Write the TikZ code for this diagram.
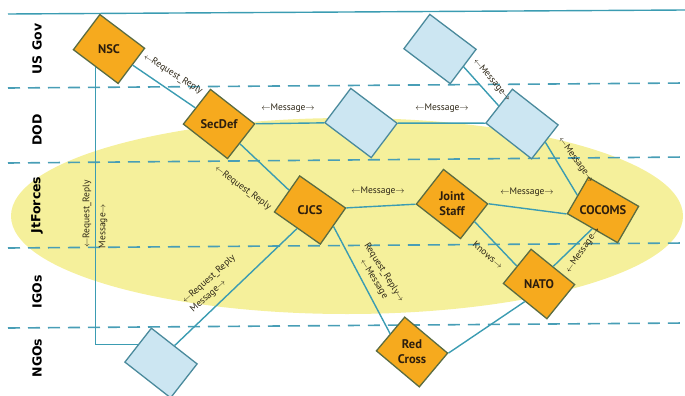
\documentclass[tikz,border=0pt]{standalone}
\usepackage{fontspec}
\setmainfont{PT Sans}
\newfontfamily\lanefont{DejaVu Sans}

\definecolor{orgfill}{RGB}{246,170,30}
\definecolor{orgline}{RGB}{90,108,66}
\definecolor{orgtxt}{RGB}{45,30,14}
\definecolor{extfill}{RGB}{204,230,242}
\definecolor{extline}{RGB}{74,138,156}
\definecolor{linkc}{RGB}{59,156,178}
\definecolor{lanec}{RGB}{72,158,182}
\definecolor{jtyellow}{RGB}{245,240,155}
\definecolor{msgtxt}{RGB}{45,38,22}

\newcommand{\arrl}{$\leftarrow$}
\newcommand{\arrr}{$\rightarrow$}

\begin{document}
\begin{tikzpicture}[x=1pt,y=-1pt,
    org/.style={draw=orgline, fill=orgfill, line width=1.3pt, minimum width=56pt, minimum height=44pt, inner sep=0pt},
    ext/.style={draw=extline, fill=extfill, line width=1.3pt, minimum width=58pt, minimum height=43pt, inner sep=0pt},
    orgtext/.style={font=\bfseries\fontsize{12.5}{15}\selectfont, text=orgtxt, align=center},
    msg/.style={font=\fontsize{9.5}{12}\selectfont, text=msgtxt, inner sep=1pt, align=center},
    lanelabel/.style={font=\lanefont\bfseries\fontsize{12.5}{13}\selectfont, rotate=90},
    link/.style={draw=linkc, line width=1.4pt},
    lane/.style={draw=lanec, line width=1.6pt, dash pattern=on 12pt off 8pt}]

  \useasboundingbox (0,0) rectangle (685,396);
  \fill[jtyellow] (347,216) ellipse [x radius=336, y radius=98];

  \draw[link] (8,14) -- (685,10);
  \draw[lane] (8,88) -- (685,83);
  \draw[lane] (8,163) -- (685,157);
  \draw[lane] (8,248) -- (685,243);
  \draw[lane] (8,328) -- (685,323);

  \node[lanelabel] (usgov) at (37,49) {US Gov};
  \node[lanelabel] (dod) at (37,130) {DOD};
  \node[lanelabel] (jtf) at (37,205) {JtForces};
  \node[lanelabel] (igos) at (37,292) {IGOs};
  \node[lanelabel] (ngos) at (37,358) {NGOs};

  \node[org, rotate=-37] (nsc) at (109,49) {};
  \node[org, rotate=-38] (secdef) at (219,124) {};
  \node[org, rotate=-35] (cjcs) at (310,210) {};
  \node[org, rotate=-38] (jstaff) at (452,204) {};
  \node[org, rotate=-30, minimum width=58pt, minimum height=42pt] (cocoms) at (603,210) {};
  \node[org, rotate=-39] (nato) at (539,284) {};
  \node[org, rotate=-40] (redcross) at (412,352) {};

  \node[ext, rotate=-37] (govbox) at (440,49) {};
  \node[ext, rotate=-37] (dodmid) at (361,123) {};
  \node[ext, rotate=-38] (dodright) at (522,124) {};
  \node[ext, rotate=-38] (ngobox) at (161,363) {};

  \node[orgtext] (nsct) at (nsc) {NSC};
  \node[orgtext] (secdeft) at (secdef) {SecDef};
  \node[orgtext] (cjcst) at (cjcs) {CJCS};
  \node[orgtext] (jstafft) at (jstaff) {Joint\\Staff};
  \node[orgtext] (cocomst) at (cocoms) {COCOMS};
  \node[orgtext] (natot) at (nato) {NATO};
  \node[orgtext] (redcrosst) at (redcross) {Red\\Cross};

  \draw[link] (nsc) -- (secdef);
  \draw[link] (nsc.south) |- (ngobox.west);
  \draw[link] (secdef) -- (cjcs);
  \draw[link] (secdef.north east) -- (dodmid.south west);
  \draw[link] (dodmid.north east) -- (dodright.south west);
  \draw[link] (govbox.east) -- (dodright.west);
  \draw[link] (dodright.east) -- (cocoms.west);
  \draw[link] (cjcs.north east) -- (jstaff.south west);
  \draw[link] (jstaff.north east) -- (cocoms.south west);
  \draw[link] (jstaff.east) -- (nato.west);
  \draw[link] (nato.north) -- (cocoms.south);
  \draw[link] (cjcs.south) -- (ngobox.north);
  \draw[link] (cjcs.east) -- (redcross.west);
  \draw[link] (nato.south) -- (redcross.north east);

  \node[msg, rotate=-32] (m1) at (173,74) {\arrl Request\_Reply};
  \node[msg, rotate=90] (m2) at (87,214) {\arrl Request\_Reply};
  \node[msg, rotate=90] (m3) at (103,226) {Message\arrr};
  \node[msg, rotate=-37] (m4) at (243,188) {\arrl Request\_Reply};
  \node[msg] (m5) at (288,108) {\arrl Message\arrr};
  \node[msg] (m6) at (442,108) {\arrl Message\arrr};
  \node[msg, rotate=-50] (m7) at (492,80) {\arrl Message\arrr};
  \node[msg, rotate=-54] (m8) at (576,160) {\arrl Message\arrr};
  \node[msg] (m9) at (378,191) {\arrl Message\arrr};
  \node[msg] (m10) at (527,192) {\arrl Message\arrr};
  \node[msg, rotate=-40] (m11) at (488,255) {Knows\arrr};
  \node[msg, rotate=55] (m12) at (583,250) {\arrl Message\arrr};
  \node[msg, rotate=42, align=left] (m13) at (213,284) {\arrl Request\_Reply\\Message\arrr};
  \node[msg, rotate=-58] (m14) at (379,276) {Request\_Reply\arrr\\\arrl Message};

\end{tikzpicture}
\end{document}
